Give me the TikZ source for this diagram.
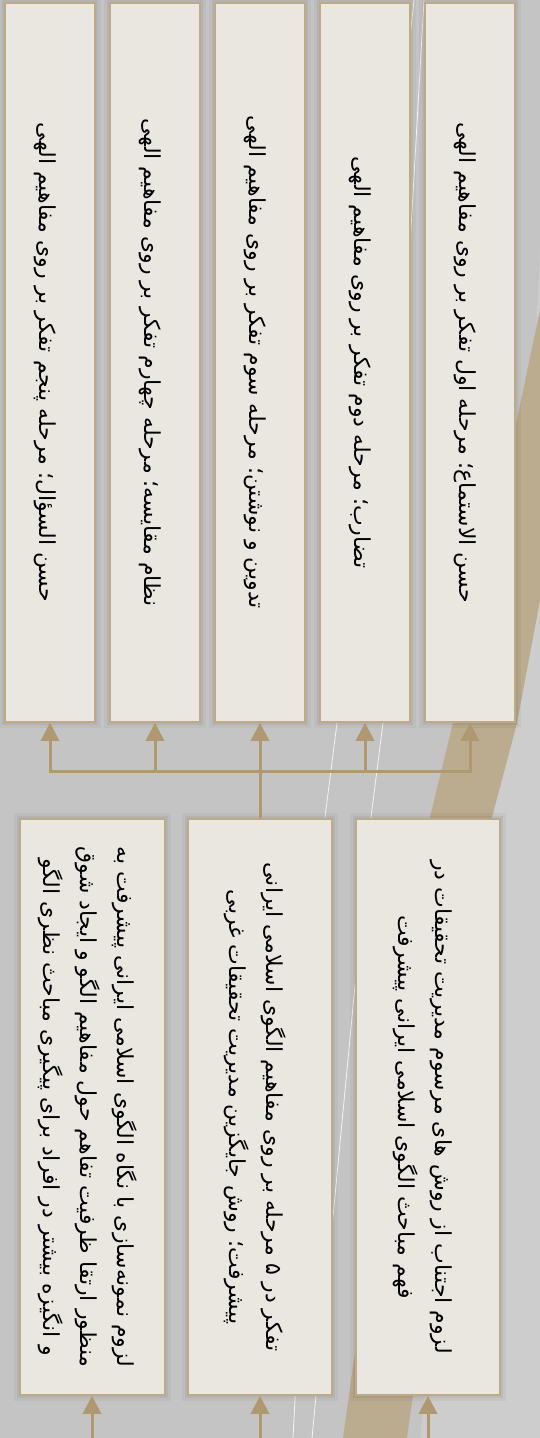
\documentclass[tikz,border=0pt]{standalone}
\usepackage{fontspec}
\TeXXeTstate=1
\newfontfamily\arabicfont[Script=Arabic]{DejaVu Sans}
\usetikzlibrary{arrows.meta,calc}
\definecolor{bggray}{HTML}{C4C4C4}
\definecolor{lightgray2}{HTML}{CDCDCD}
\definecolor{band}{HTML}{BBAB8F}
\definecolor{boxfill}{HTML}{EAE7E1}
\definecolor{boxline}{HTML}{BEAA87}
\definecolor{arrowc}{HTML}{B09870}
\pgfdeclarelayer{bglayer}
\pgfdeclarelayer{shadowlayer}
\pgfsetlayers{bglayer,shadowlayer,main}
\tikzset{
  box/.style={draw=boxline, fill=boxfill, line width=1.5pt, inner sep=0pt, rectangle},
  tallbox/.style={box, minimum width=90pt, minimum height=719pt},
  widebox/.style={box, minimum width=144pt, minimum height=576pt},
  txt/.style={font=\arabicfont\fontsize{22pt}{37pt}\selectfont, text=black, align=center, inner sep=0pt, rotate=-90},
  conn/.style={draw=arrowc, line width=3pt},
  arr/.style={conn, -{Triangle[width=18pt,length=18pt]}, arrowc},
  whiteline/.style={draw=white, line width=0.8pt, opacity=0.8}
}
\begin{document}
\begin{tikzpicture}[x=1pt,y=-1pt]
\useasboundingbox (0,0) rectangle (540,1438);
\begin{pgfonlayer}{bglayer}
\fill[bggray] (0,0) rectangle (540,1438);
\fill[lightgray2] (540,250) -- (540,1438) -- (420,1438) -- (492,817) -- (517,723) -- cycle;
\fill[band] (540,310) -- (540,600) -- (517,723) -- (492,817) -- (407,1438) -- (343,1438) -- (430,817) -- (453,723) -- cycle;
\draw[whiteline] (414,0) -- (337,723) -- (325,817) -- (293,1438);
\draw[whiteline] (424,0) -- (383,723) -- (371,817) -- (312,1438);
\end{pgfonlayer}

% top row (stages)
\node[tallbox] (s1) at (50,362.5) {};
\node[tallbox] (s2) at (155,362.5) {};
\node[tallbox] (s3) at (260,362.5) {};
\node[tallbox] (s4) at (365,362.5) {};
\node[tallbox] (s5) at (470,362.5) {};
\node[txt] (ts1) at ($(s1.center)+(-5,0)$) {\beginR حسن السؤال؛ مرحله پنجم تفکر بر روی مفاهیم الهی\endR};
\node[txt] (ts2) at ($(s2.center)+(-5,0)$) {\beginR نظام مقایسه؛ مرحله چهارم تفکر بر روی مفاهیم الهی\endR};
\node[txt] (ts3) at ($(s3.center)+(-5,0)$) {\beginR تدوین و نوشتن؛ مرحله سوم تفکر بر روی مفاهیم الهی\endR};
\node[txt] (ts4) at ($(s4.center)+(-5,0)$) {\beginR تضارب؛ مرحله دوم تفکر بر روی مفاهیم الهی\endR};
\node[txt] (ts5) at ($(s5.center)+(-5,0)$) {\beginR حسن الاستماع؛ مرحله اول تفکر بر روی مفاهیم الهی\endR};

% bottom row
\node[widebox, minimum width=145pt] (b1) at (92.5,1107) {};
\node[widebox] (b2) at (260,1107) {};
\node[widebox] (b3) at (428,1107) {};
\node[txt] (tb1) at ($(b1.center)+(-5,0)$) {\beginR لزوم نمونه‌سازی با نگاه الگوی اسلامی ایرانی پیشرفت به\endR\\\beginR منظور ارتقا ظرفیت تفاهم حول مفاهیم الگو و ایجاد شوق\endR\\\beginR و انگیزه بیشتر در افراد برای پیگیری مباحث نظری الگو\endR};
\node[txt] (tb2) at ($(b2.center)+(-5,0)$) {\beginR تفکر در ۵ مرحله بر روی مفاهیم الگوی اسلامی ایرانی\endR\\\beginR پیشرفت؛ روش جایگزین مدیریت تحقیقات غربی\endR};
\node[txt] (tb3) at ($(b3.center)+(-5,0)$) {\beginR لزوم اجتناب از روش های مرسوم مدیریت تحقیقات در\endR\\\beginR فهم مباحث الگوی اسلامی ایرانی پیشرفت\endR};

% shadows
\begin{pgfonlayer}{shadowlayer}
\foreach \n in {s1,s2,s3,s4,s5,b1,b2,b3}{
  \fill[black,opacity=0.035] ($(\n.south west)+(-5,5)$) rectangle ($(\n.north east)+(5,-5)$);
  \fill[black,opacity=0.05] ($(\n.south west)+(-2.5,2.5)$) rectangle ($(\n.north east)+(2.5,-2.5)$);
}
\end{pgfonlayer}

% connectors
\coordinate (bus) at (260,771);
\foreach \n in {s1,s2,s3,s4,s5}{
  \draw[arr] (b2.north) -- (b2.north |- bus) -| (\n.south);
}
\coordinate (e1) at (92,1438);
\coordinate (e2) at (260,1438);
\coordinate (e3) at (428,1438);
\draw[arr] (e1) -- (e1 |- b1.south);
\draw[arr] (e2) -- (b2.south);
\draw[arr] (e3) -- (b3.south);
\end{tikzpicture}
\end{document}
